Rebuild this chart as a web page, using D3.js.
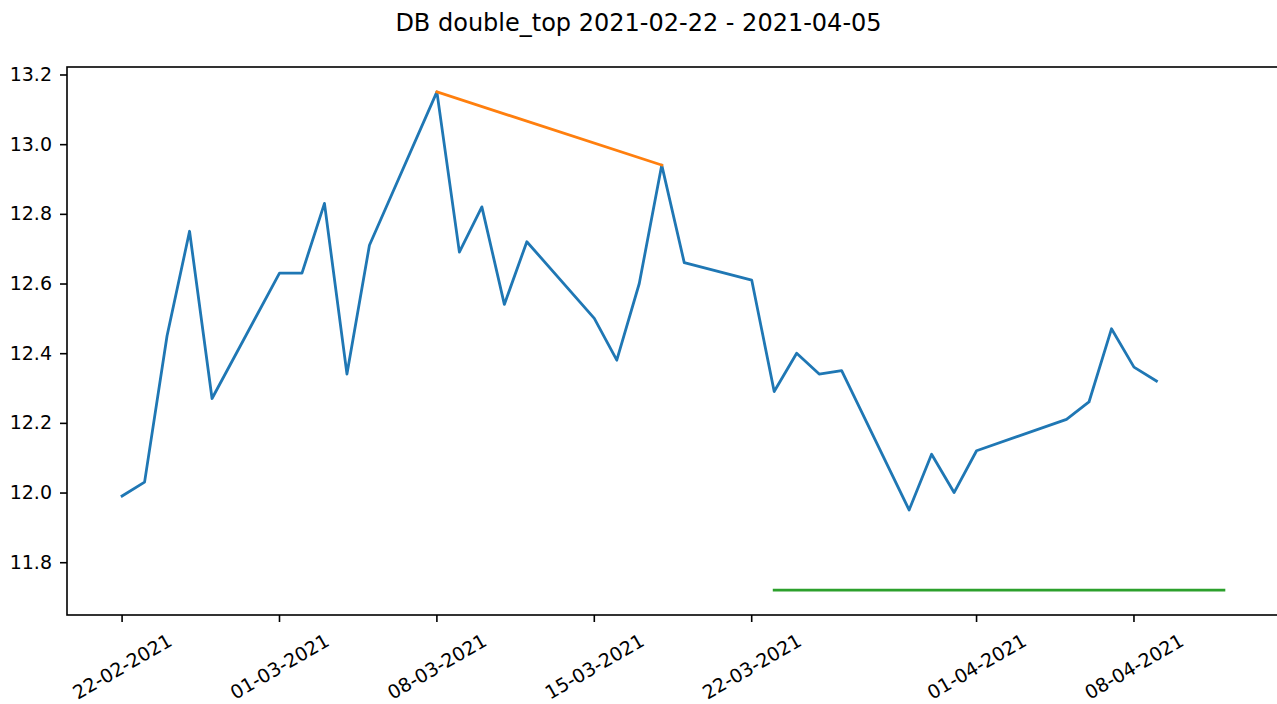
<!DOCTYPE html>
<html>
<head>
<meta charset="utf-8">
<script src="https://cdnjs.cloudflare.com/ajax/libs/d3/7.8.5/d3.min.js"></script>
<style>
  body { margin: 0; background: #fff; }
  text { font-family: "DejaVu Sans", sans-serif; fill: #000; }
</style>
</head>
<body>
<div id="chart"></div>
<script>
/* price series, trading days */
var dates = [
  "2021-02-22", "2021-02-23", "2021-02-24", "2021-02-25", "2021-02-26",
  "2021-03-01", "2021-03-02", "2021-03-03", "2021-03-04", "2021-03-05",
  "2021-03-08", "2021-03-09", "2021-03-10", "2021-03-11", "2021-03-12",
  "2021-03-15", "2021-03-16", "2021-03-17", "2021-03-18", "2021-03-19",
  "2021-03-22", "2021-03-23", "2021-03-24", "2021-03-25", "2021-03-26",
  "2021-03-29", "2021-03-30", "2021-03-31", "2021-04-01",
  "2021-04-05", "2021-04-06", "2021-04-07", "2021-04-08", "2021-04-09"
];
var prices = [
  11.99, 12.03, 12.45, 12.75, 12.27,
  12.63, 12.63, 12.83, 12.34, 12.71,
  13.15, 12.69, 12.82, 12.54, 12.72,
  12.50, 12.38, 12.60, 12.94, 12.66,
  12.61, 12.29, 12.40, 12.34, 12.35,
  11.95, 12.11, 12.00, 12.12,
  12.21, 12.26, 12.47, 12.36, 12.32
];

// the two tops
var topDates = ["2021-03-08", "2021-03-18"];
var topValues = [13.15, 12.94];

// neckline / target level
var lineDates = ["2021-03-23", "2021-04-12"];
var lineValues = [11.72, 11.72];

var tickDates = ["2021-02-22", "2021-03-01", "2021-03-08", "2021-03-15",
                 "2021-03-22", "2021-04-01", "2021-04-08"];
var yTicks = [11.8, 12.0, 12.2, 12.4, 12.6, 12.8, 13.0, 13.2];

var title = "DB double_top 2021-02-22 - 2021-04-05";

(function () {
  var parse = d3.utcParse("%Y-%m-%d");
  var fmt = d3.utcFormat("%d-%m-%Y");

  function pairs(ds, vs) {
    return ds.map(function (d, i) { return { date: parse(d), value: vs[i] }; });
  }
  var series = [
    { color: "#1f77b4", points: pairs(dates, prices) },
    { color: "#ff7f0e", points: pairs(topDates, topValues) },
    { color: "#2ca02c", points: pairs(lineDates, lineValues) }
  ];

  var width = 1277;
  var height = 704;
  var margin = { left: 67, top: 67, bottom: 615, right: 1279 };

  var svg = d3.select("#chart").append("svg")
    .attr("width", width)
    .attr("height", height);

  var allDates = [], allValues = [];
  series.forEach(function (s) {
    s.points.forEach(function (p) { allDates.push(p.date); allValues.push(p.value); });
  });

  // matplotlib style 5% margins
  var xExt = d3.extent(allDates);
  var xPad = (xExt[1] - xExt[0]) * 0.05;
  var xScale = d3.scaleUtc()
    .domain([new Date(+xExt[0] - xPad), new Date(+xExt[1] + xPad)])
    .range([margin.left, margin.right]);

  var yExt = d3.extent(allValues);
  var yPad = (yExt[1] - yExt[0]) * 0.05;
  var yScale = d3.scaleLinear()
    .domain([yExt[0] - yPad, yExt[1] + yPad])
    .range([margin.bottom, margin.top]);

  var line = d3.line()
    .x(function (d) { return xScale(d.date); })
    .y(function (d) { return yScale(d.value); });

  svg.selectAll(".series")
    .data(series)
    .enter()
    .append("path")
    .attr("class", "series")
    .attr("d", function (s) { return line(s.points); })
    .attr("fill", "none")
    .attr("stroke", function (s) { return s.color; })
    .attr("stroke-width", 2.8)
    .attr("stroke-linejoin", "round")
    .attr("stroke-linecap", "square");

  // frame
  svg.append("rect")
    .attr("x", margin.left)
    .attr("y", margin.top)
    .attr("width", margin.right - margin.left)
    .attr("height", margin.bottom - margin.top)
    .attr("fill", "none")
    .attr("stroke", "#000")
    .attr("stroke-width", 1.6);

  // y axis
  var yAxis = d3.axisLeft(yScale)
    .tickValues(yTicks)
    .tickFormat(d3.format(".1f"))
    .tickSizeInner(7)
    .tickSizeOuter(0)
    .tickPadding(8);

  var gy = svg.append("g")
    .attr("transform", "translate(" + margin.left + ",0)")
    .call(yAxis);
  gy.select(".domain").remove();
  gy.selectAll(".tick line").attr("stroke", "#000").attr("stroke-width", 1.6);
  gy.selectAll(".tick text")
    .style("font-size", "19px")
    .style("font-family", "DejaVu Sans, sans-serif")
    .attr("fill", "#000");

  // x axis ticks
  var xTicks = tickDates.map(parse);
  var gx = svg.append("g");
  gx.selectAll("line")
    .data(xTicks)
    .enter()
    .append("line")
    .attr("x1", function (d) { return xScale(d); })
    .attr("x2", function (d) { return xScale(d); })
    .attr("y1", margin.bottom)
    .attr("y2", margin.bottom + 7)
    .attr("stroke", "#000")
    .attr("stroke-width", 1.6);

  // rotated labels, centred under the tick like matplotlib rotation=30
  var fs = 19;
  var labels = gx.selectAll("text")
    .data(xTicks)
    .enter()
    .append("text")
    .text(function (d) { return fmt(d); })
    .style("font-size", fs + "px")
    .attr("text-anchor", "middle")
    .attr("dominant-baseline", "central");

  labels.attr("transform", function (d) {
    var w = this.getComputedTextLength();
    var h = fs * 1.17;
    var H = w * Math.sin(Math.PI / 6) + h * Math.cos(Math.PI / 6);
    var cy = margin.bottom + 7 + 7 + H / 2;
    return "translate(" + xScale(d) + "," + cy + ") rotate(-30)";
  });

  svg.append("text")
    .attr("x", width / 2)
    .attr("y", 31)
    .attr("text-anchor", "middle")
    .style("font-size", "24px")
    .text(title);
})();
</script>
</body>
</html>
